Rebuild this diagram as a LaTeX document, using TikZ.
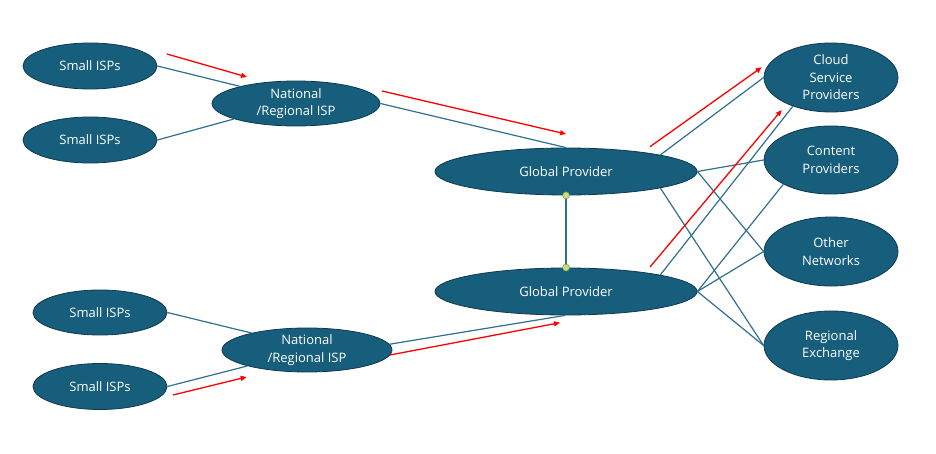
\documentclass[tikz,border=0pt]{standalone}
\usepackage{fontspec}
\setmainfont{Open Sans}
\usetikzlibrary{arrows.meta,shapes.geometric}
\definecolor{nodefill}{RGB}{23,94,124}
\definecolor{nodeedge}{RGB}{14,58,80}
\definecolor{linkblue}{RGB}{47,112,145}
\definecolor{dotfill}{RGB}{196,224,126}
\definecolor{dotedge}{RGB}{120,150,70}
\tikzset{
  isp/.style={ellipse, draw=nodeedge, line width=0.8pt, fill=nodefill, text=white,
    inner sep=0pt, align=center, font=\fontsize{13}{17.5}\selectfont},
  link/.style={draw=linkblue, line width=1.2pt},
  flow/.style={draw=red, line width=1.3pt, -{Triangle[length=6pt,width=5pt]}},
  joint/.style={circle, draw=dotedge, line width=0.5pt, fill=dotfill, inner sep=0pt, minimum size=7pt}
}
\begin{document}
\begin{tikzpicture}[x=1pt,y=-1pt]
\useasboundingbox (0,0) rectangle (936,454);
% nodes
\node[isp, minimum width=134pt, minimum height=46pt] (s1) at (90,66) {Small ISPs};
\node[isp, minimum width=134pt, minimum height=46pt] (s2) at (90,140) {Small ISPs};
\node[isp, minimum width=168pt, minimum height=45pt] (n1) at (296,103.5) {National\\/Regional ISP};
\node[isp, minimum width=262pt, minimum height=47pt] (g1) at (566,171.5) {Global Provider};
\node[isp, minimum width=262pt, minimum height=47pt] (g2) at (566,291.5) {Global Provider};
\node[isp, minimum width=134pt, minimum height=45pt] (s3) at (100,312.5) {Small ISPs};
\node[isp, minimum width=134pt, minimum height=46pt] (s4) at (100,386.5) {Small ISPs};
\node[isp, minimum width=170pt, minimum height=44pt] (n2) at (307,350) {National\\/Regional ISP};
\node[isp, minimum width=134pt, minimum height=69pt] (cl) at (831,77.5) {Cloud\\Service\\Providers};
\node[isp, minimum width=134pt, minimum height=68pt] (co) at (831,160) {Content\\Providers};
\node[isp, minimum width=134pt, minimum height=69pt] (ot) at (831,251.5) {Other\\Networks};
\node[isp, minimum width=134pt, minimum height=69pt] (re) at (831,345.5) {Regional\\Exchange};
% blue links
\draw[link] (s1.east) -- (n1.163.5);
\draw[link] (s2.east) -- (n1.194.7);
\draw[link] (n1.east) -- (g1.north);
\draw[link] (s3.east) -- (n2.163.8);
\draw[link] (s4.east) -- (n2.195.3);
\draw[link] (n2.4.8) -- (g2.268);
\draw[link] (g1.10) -- (cl.west);
\draw[link] (g1.east) -- (co.west);
\draw[link] (g1.east) -- (ot.west);
\draw[link] (g1.-10) -- (re.west);
\draw[link] (g2.10) -- (cl.217.3);
\draw[link] (g2.east) -- (co.207.5);
\draw[link] (g2.east) -- (ot.west);
\draw[link] (g2.east) -- (re.west);
\draw[link] (g1.south) -- (g2.north);
\node[joint] (j1) at (g1.south) {};
\node[joint] (j2) at (g2.north) {};
% red flow arrows
\coordinate (a1s) at (167,54);   \coordinate (a1e) at (247,77);
\coordinate (a2s) at (382,91);   \coordinate (a2e) at (566,134);
\coordinate (a3s) at (650,146.7);\coordinate (a3e) at (761.7,67.3);
\coordinate (a4s) at (650,267);  \coordinate (a4e) at (781.7,110);
\coordinate (a5s) at (173,395);  \coordinate (a5e) at (246.7,377);
\coordinate (a6s) at (390,355);  \coordinate (a6e) at (560,322.7);
\draw[flow] (a1s) -- (a1e);
\draw[flow] (a2s) -- (a2e);
\draw[flow] (a3s) -- (a3e);
\draw[flow] (a4s) -- (a4e);
\draw[flow] (a5s) -- (a5e);
\draw[flow] (a6s) -- (a6e);
\end{tikzpicture}
\end{document}
